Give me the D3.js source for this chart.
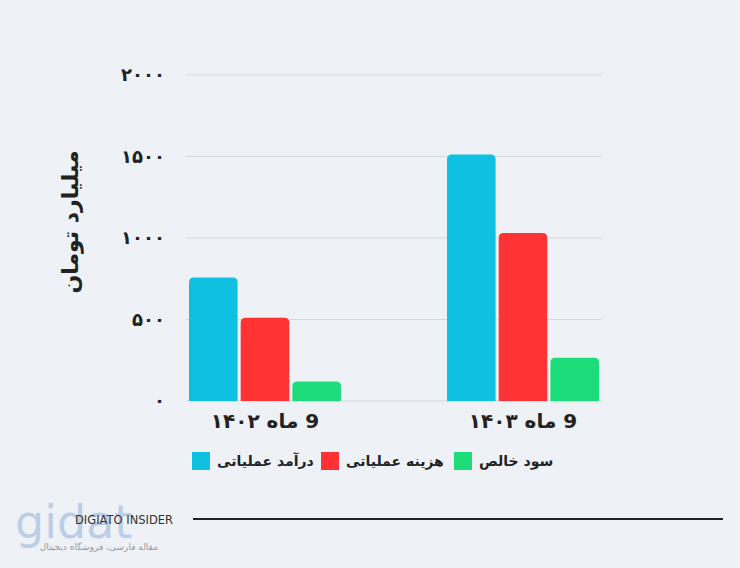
<!DOCTYPE html><html><head><meta charset="utf-8">
<script src="https://cdn.jsdelivr.net/npm/d3@7"></script>
<style>body{margin:0;background:#eef2f6}</style></head><body>
<script>
const categories=["9 ماه ۱۴۰۲","9 ماه ۱۴۰۳"];
const seriesNames=["درآمد عملیاتی","هزینه عملیاتی","سود خالص"];
const revenue=[758,1512];
const cost=[510,1030];
const profit=[120,265];
const ticks=[0,500,1000,1500,2000];
const colors=["#0fc0e1","#ff3333","#1ddc7a"];
const fa=n=>String(n).replace(/\d/g,d=>"۰۱۲۳۴۵۶۷۸۹"[d]);
const W=740,H=568;
const svg=d3.select("body").append("svg").attr("width",W).attr("height",H);
svg.append("rect").attr("width",W).attr("height",H).attr("fill","#eef2f6");
const y=d3.scaleLinear().domain([0,2000]).range([401,75]);
const x0=d3.scaleBand().domain(categories).range([189,599]).paddingInner(0.411).paddingOuter(0);
const x1=d3.scaleBand().domain(seriesNames).range([0,x0.bandwidth()]).paddingInner(0.06);
const font="DejaVu Sans, sans-serif";
const g=svg.append("g");
ticks.forEach(t=>{
 g.append("line").attr("x1",186).attr("x2",602).attr("y1",y(t)).attr("y2",y(t)).attr("stroke","#d5d9de").attr("stroke-width",1);
 g.append("text").attr("x",165).attr("y",y(t)+6).attr("text-anchor","end").attr("font-family",font).attr("font-weight","bold").attr("font-size",18).attr("fill","#222").text(fa(t));
});
const data=[revenue,cost,profit];
categories.forEach((c,i)=>{
 seriesNames.forEach((s,j)=>{
  const v=data[j][i],bx=x0(c)+x1(s),bw=x1.bandwidth(),top=y(v),r=5;
  g.append("path").attr("fill",colors[j]).attr("d",`M${bx},${y(0)}V${top+r}Q${bx},${top} ${bx+r},${top}H${bx+bw-r}Q${bx+bw},${top} ${bx+bw},${top+r}V${y(0)}Z`);
 });
 g.append("text").attr("x",x0(c)+x0.bandwidth()/2).attr("y",428).attr("text-anchor","middle").attr("font-family",font).attr("font-weight","bold").attr("font-size",20).attr("fill","#222").attr("direction","rtl").text(c);
});
svg.append("text").attr("transform","translate(78,222) rotate(-90)").attr("text-anchor","middle").attr("font-family",font).attr("font-weight","bold").attr("font-size",22).attr("fill","#222").text("میلیارد تومان");
const leg=[192,321,454];
seriesNames.forEach((s,j)=>{
 svg.append("rect").attr("x",leg[j]).attr("y",452).attr("width",18).attr("height",18).attr("fill",colors[j]);
 svg.append("text").attr("x",leg[j]+25).attr("y",466).attr("text-anchor","start").attr("font-family",font).attr("font-weight","bold").attr("font-size",14).attr("fill","#222").text(s);
});
svg.append("line").attr("x1",193).attr("x2",723).attr("y1",519).attr("y2",519).attr("stroke","#222").attr("stroke-width",2);
svg.append("text").attr("x",15).attr("y",538).attr("font-family",font).attr("font-size",46).attr("fill","#4a7fc1").attr("opacity",0.3).text("gidat");
svg.append("text").attr("x",75).attr("y",524).attr("font-family",font).attr("font-size",11.5).attr("fill","#333").text("DIGIATO INSIDER");
svg.append("text").attr("x",158).attr("y",550).attr("text-anchor","end").attr("font-family",font).attr("font-size",9).attr("fill","#999").text("مقاله فارسی، فروشگاه دیجیتال");
</script></body></html>
